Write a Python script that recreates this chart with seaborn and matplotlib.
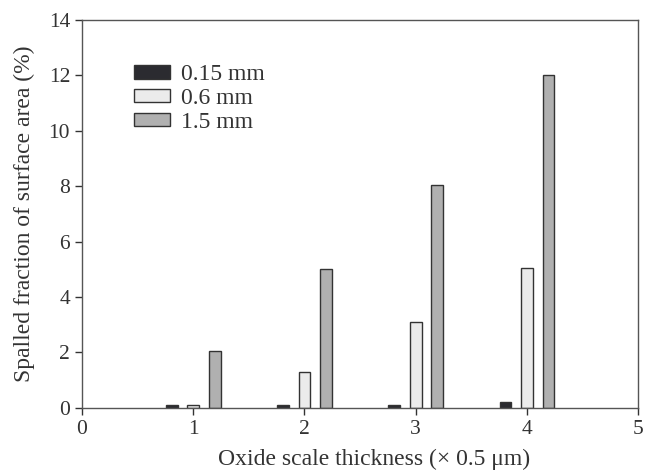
import pandas as pd
import matplotlib
matplotlib.use("Agg")
import matplotlib.pyplot as plt
import seaborn as sns

# data
thickness = [1, 2, 3, 4]
series = ["0.15 mm", "0.6 mm", "1.5 mm"]
vals_015 = [0.1, 0.1, 0.1, 0.2]
vals_06 = [0.1, 1.3, 3.1, 5.05]
vals_15 = [2.05, 5.0, 8.05, 12.0]

df = pd.DataFrame({
    "thickness": thickness * 3,
    "size": [s for s in series for _ in thickness],
    "value": vals_015 + vals_06 + vals_15,
})

sns.set_style("ticks")
plt.rcParams["font.family"] = ["Liberation Serif", "DejaVu Serif"]

fig = plt.figure(figsize=(6.5, 4.71), dpi=100)
ax = fig.add_axes([0.126, 0.134, 0.856, 0.824])

palette = {"0.15 mm": "#2b2b30", "0.6 mm": "#ebebeb", "1.5 mm": "#b0b0b0"}
sns.barplot(data=df, x="thickness", y="value", hue="size", hue_order=series,
            palette=palette, native_scale=True, width=0.58, gap=0.45,
            edgecolor="#333333", linewidth=1.0, saturation=1, ax=ax)

ax.set_xlim(0, 5)
ax.set_ylim(0, 14)
ax.set_xticks([0, 1, 2, 3, 4, 5])
ax.set_yticks(range(0, 15, 2))
ax.set_xlabel("Oxide scale thickness (\u00d7 0.5 \u03bcm)", fontsize=17,
              color="#333333")
ax.xaxis.set_label_coords(0.525, -0.105)
ax.set_ylabel("Spalled fraction of surface area (%)", fontsize=17,
              color="#333333", labelpad=10)
ax.tick_params(labelsize=15.5, colors="#333333", direction="out", length=5, width=1)
for sp in ax.spines.values():
    sp.set_visible(True)
    sp.set_color("#555555")
    sp.set_linewidth(1.0)

handles, labels = ax.get_legend_handles_labels()
ax.legend(handles, labels, loc="upper left", bbox_to_anchor=(0.055, 0.94),
          frameon=False, fontsize=17, handlelength=1.55, handleheight=0.5,
          labelspacing=0.12, handletextpad=0.45, labelcolor="#333333")

fig.savefig("out.png", dpi=100)
